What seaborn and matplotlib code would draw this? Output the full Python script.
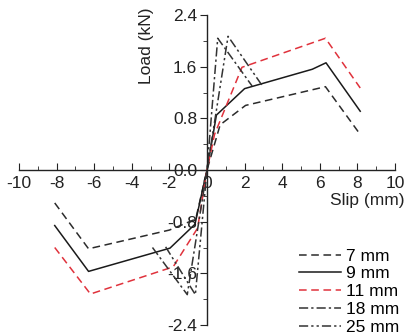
import numpy as np
import pandas as pd
import matplotlib
matplotlib.use("Agg")
import matplotlib.pyplot as plt
from matplotlib.ticker import MultipleLocator
import seaborn as sns

# slip (mm) / load (kN)
labels = ['7 mm', '9 mm', '11 mm', '18 mm', '25 mm']
slip_7 = [-8.1, -6.3, -2.0, -0.6, 0.0, 0.7, 2.05, 6.3, 8.15]
load_7 = [-0.51, -1.22, -0.93, -0.76, 0.0, 0.70, 1.0, 1.29, 0.55]
slip_9 = [-8.1, -6.3, -1.97, -0.64, 0.0, 0.5, 2.0, 5.6, 6.33, 8.15]
load_9 = [-0.86, -1.57, -1.21, -0.84, 0.0, 0.85, 1.26, 1.56, 1.66, 0.91]
slip_11 = [-8.1, -6.2, -1.8, -0.5, 0.0, 0.4, 1.86, 6.3, 8.15]
load_11 = [-1.2, -1.92, -1.5, -0.9, 0.0, 0.55, 1.59, 2.04, 1.27]
slip_18 = [-2.9, -1.05, 0.0, 0.57, 2.4]
load_18 = [-1.2, -1.93, 0.0, 2.04, 1.3]
slip_25 = [-2.2, -0.62, 0.0, 1.12, 3.0]
load_25 = [-1.19, -1.93, 0.0, 2.07, 1.28]

series = [(slip_7, load_7), (slip_9, load_9), (slip_11, load_11),
          (slip_18, load_18), (slip_25, load_25)]
colors = ['#2b2b2b', '#1a1a1a', '#e0323c', '#333333', '#333333']
dashes = [(5, 3), (), (5, 3), (6, 2, 1.5, 2), (6, 2, 1.5, 2, 1.5, 2)]

plt.rcParams['font.family'] = ['Liberation Sans', 'DejaVu Sans']
plt.rcParams['axes.unicode_minus'] = False
fig = plt.figure(figsize=(4.06, 3.36), dpi=100)
ax = fig.add_axes([19/406, 1 - 325/336, 376/406, 310/336])

for (xs, ys), lab, c, d in zip(series, labels, colors, dashes):
    df = pd.DataFrame({'slip': xs, 'load': ys})
    sns.lineplot(data=df, x='slip', y='load', ax=ax, color=c, lw=1.1,
                 label=lab, sort=False)
    if d:
        ax.lines[-1].set_dashes(d)

ax.set_xlim(-10, 10)
ax.set_ylim(-2.4, 2.4)
ax.spines['left'].set_position(('data', 0))
ax.spines['bottom'].set_position(('data', 0))
ax.spines['right'].set_visible(False)
ax.spines['top'].set_visible(False)
for s in ['left', 'bottom']:
    ax.spines[s].set_color('#222222')
    ax.spines[s].set_linewidth(1)

ax.set_xticks(np.arange(-10, 11, 2))
ax.xaxis.set_minor_locator(MultipleLocator(1))
ax.set_yticks([-2.4, -1.6, -0.8, 0, 0.8, 1.6, 2.4])
ax.set_yticklabels(['-2.4', '-1.6', '-0.8', '0.0', '0.8', '1.6', '2.4'])
ax.yaxis.set_minor_locator(MultipleLocator(0.4))
ax.tick_params(axis='x', which='both', direction='in', labelsize=12.5, pad=4,
               colors='#222222')
ax.tick_params(axis='x', which='major', length=5)
ax.tick_params(axis='x', which='minor', length=3)
ax.tick_params(axis='y', which='both', direction='out', labelsize=12.5, pad=2,
               colors='#222222')
ax.tick_params(axis='y', which='major', length=5)
ax.tick_params(axis='y', which='minor', length=3)

ax.set_xlabel('')
ax.set_ylabel('')
ax.text(147 / 406, 1 - 46 / 336, 'Load (kN)', transform=fig.transFigure,
        rotation=90, ha='center', va='center', fontsize=12.5, color='#222222')
ax.text(367 / 406, 1 - 200 / 336, 'Slip (mm)', transform=fig.transFigure,
        ha='center', va='center', fontsize=12.5, color='#222222')

leg = ax.legend(loc='lower right', bbox_to_anchor=(1.04, -0.065), frameon=False,
                fontsize=12.5, handlelength=2.4, handletextpad=0.3,
                labelspacing=0.15, borderaxespad=0.2)

fig.savefig('out.png', dpi=100)
